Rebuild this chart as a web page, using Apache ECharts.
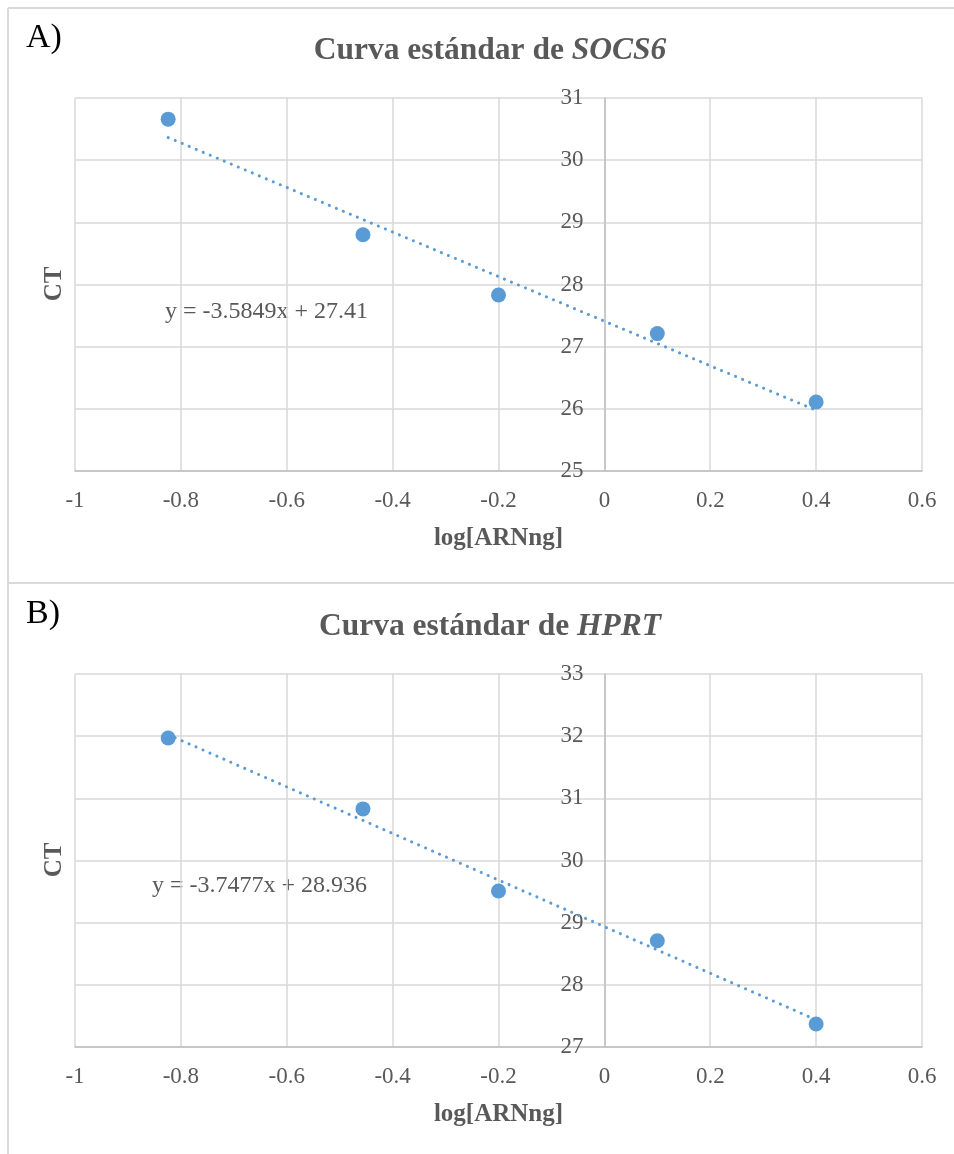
<!DOCTYPE html>
<html>
<head>
<meta charset="utf-8">
<script src="https://cdn.jsdelivr.net/npm/echarts@6/dist/echarts.min.js"></script>
<style>
  html, body { margin: 0; padding: 0; background: #fff; }
  #chart { width: 954px; height: 1154px; }
</style>
</head>
<body>
<div id="chart"></div>
<script>
// log[ARNng] de los estandares
var logRNA = [-0.824, -0.456, -0.2, 0.1, 0.4]
// CT
var ctSOCS6 = [30.66, 28.80, 27.83, 27.21, 26.11]
var ctHPRT = [31.97, 30.83, 29.51, 28.71, 27.37]
// lineas de tendencia (y = m x + b)
var fitSOCS6 = [-3.5849, 27.41]
var fitHPRT = [-3.7477, 28.936]
var genes = ['SOCS6', 'HPRT']
var panels = ['A)', 'B)']

var font = '"Liberation Serif", "Times New Roman", serif'
var grey = '#595959'
var blue = '#5b9bd5'
var xMin = -1, xMax = 0.6
var plotW = 847, plotH = 373

function pairs(xs, ys) {
  return xs.map(function (x, i) { return [x, ys[i]] })
}
function trend(fit) {
  var x0 = logRNA[0], x1 = logRNA[logRNA.length - 1]
  return [[x0, fit[0] * x0 + fit[1]], [x1, fit[0] * x1 + fit[1]]]
}
function eqText(fit) {
  return 'y = ' + fit[0] + 'x + ' + fit[1]
}

var chart = echarts.init(document.getElementById('chart'))

function xAxis(i) {
  return {
    type: 'value', gridIndex: i, min: xMin, max: xMax, interval: 0.2,
    name: 'log[ARNng]', nameLocation: 'middle', nameGap: 55,
    nameTextStyle: { fontFamily: font, fontSize: 25, fontWeight: 'bold', color: grey },
    axisLine: { onZero: false, lineStyle: { color: '#bfbfbf', width: 1.5 } },
    axisTick: { show: false },
    axisLabel: { fontFamily: font, fontSize: 23, color: grey, margin: 18,
      formatter: function (v) { return String(Math.round(v * 10) / 10) } },
    splitLine: { lineStyle: { color: '#d9d9d9', width: 1.5 } }
  }
}
function yAxis(i, min, max) {
  // eje vertical cruzando en x = 0, como en Excel
  return {
    type: 'value', gridIndex: i, min: min, max: max, interval: 1,
    offset: -(0 - xMin) / (xMax - xMin) * plotW,
    axisLine: { show: true, onZero: false, lineStyle: { color: '#bfbfbf', width: 1.5 } },
    axisTick: { show: false },
    axisLabel: { fontFamily: font, fontSize: 23, color: grey, margin: 21 },
    splitLine: { lineStyle: { color: '#d9d9d9', width: 1.5 } }
  }
}
function scatter(i, ys) {
  return {
    type: 'scatter', xAxisIndex: i, yAxisIndex: i,
    data: pairs(logRNA, ys), symbolSize: 15, z: 3,
    itemStyle: { color: blue, opacity: 1 }
  }
}
function fitLine(i, fit) {
  return {
    type: 'line', xAxisIndex: i, yAxisIndex: i,
    data: trend(fit), showSymbol: false, silent: true, z: 2,
    lineStyle: { color: blue, width: 3, type: [0.1, 7.5], cap: 'round' }
  }
}
function titleText(i, y) {
  return {
    type: 'text', x: 490, y: y,
    style: {
      text: '{a|Curva estándar de }{b|' + genes[i] + '}',
      align: 'center', verticalAlign: 'middle',
      rich: {
        a: { fontFamily: font, fontSize: 31.5, fontWeight: 'bold', fill: grey },
        b: { fontFamily: font, fontSize: 31.5, fontWeight: 'bold', fontStyle: 'italic', fill: grey }
      }
    }
  }
}
function plain(text, x, y, size, color) {
  return {
    type: 'text', x: x, y: y,
    style: { text: text, fontFamily: font, fontSize: size, fill: color, verticalAlign: 'middle' }
  }
}
function yName(y) {
  return {
    type: 'text', x: 55, y: y, rotation: Math.PI / 2,
    style: { text: 'CT', fontFamily: font, fontSize: 25, fontWeight: 'bold', fill: grey,
      align: 'center', verticalAlign: 'middle' }
  }
}
function rule(x1, y1, x2, y2) {
  return {
    type: 'line', shape: { x1: x1, y1: y1, x2: x2, y2: y2 },
    style: { stroke: '#d9d9d9', lineWidth: 2 }
  }
}

var option = {
  backgroundColor: '#fff',
  animation: false,
  grid: [
    { left: 75, top: 98, width: plotW, height: plotH, outerBoundsMode: 'none', containLabel: false },
    { left: 75, top: 674, width: plotW, height: plotH, outerBoundsMode: 'none', containLabel: false }
  ],
  xAxis: [xAxis(0), xAxis(1)],
  yAxis: [yAxis(0, 25, 31), yAxis(1, 27, 33)],
  series: [
    fitLine(0, fitSOCS6), scatter(0, ctSOCS6),
    fitLine(1, fitHPRT), scatter(1, ctHPRT)
  ],
  graphic: [
    rule(8, 8, 954, 8),
    rule(8, 8, 8, 1154),
    rule(8, 583, 954, 583),
    plain(panels[0], 26, 38, 34, '#000'),
    plain(panels[1], 26, 614, 34, '#000'),
    titleText(0, 51),
    titleText(1, 627),
    yName(284),
    yName(860),
    plain(eqText(fitSOCS6), 165, 312, 24, grey),
    plain(eqText(fitHPRT), 152, 886, 24, grey)
  ]
}
chart.setOption(option)
</script>
</body>
</html>
